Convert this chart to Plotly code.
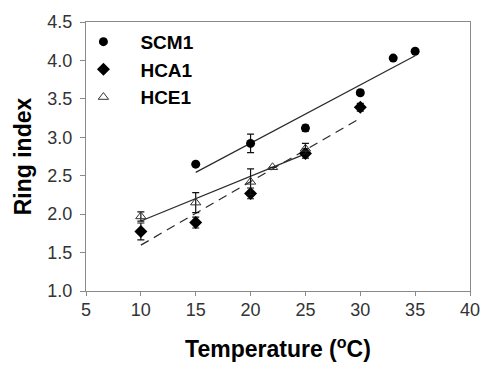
import numpy as np
import plotly.graph_objects as go

# Data
scm1_x = [15, 20, 25, 30, 33, 35]
scm1_y = [2.65, 2.92, 3.12, 3.58, 4.03, 4.12]
scm1_err = [0.0, 0.12, 0.04, 0.03, 0.0, 0.0]

hca1_x = [10, 15, 20, 25, 30]
hca1_y = [1.775, 1.89, 2.27, 2.79, 3.39]
hca1_err = [0.11, 0.07, 0.07, 0.06, 0.05]

hce1_x = [10, 15, 20, 22, 25]
hce1_y = [1.97, 2.15, 2.42, 2.61, 2.85]
hce1_err = [0.06, 0.13, 0.17, 0.0, 0.07]

x_ticks = [5, 10, 15, 20, 25, 30, 35, 40]
y_ticks = [1.0, 1.5, 2.0, 2.5, 3.0, 3.5, 4.0, 4.5]

def fit_line(xs, ys):
    k, b = np.polyfit(xs, ys, 1)
    xe = np.array([min(xs), max(xs)])
    return xe, k * xe + b

fig = go.Figure()

line_col = "#2a2a2a"
# regression lines
for xs, ys, dash in [(scm1_x, scm1_y, "solid"), (hca1_x, hca1_y, "dash"), (hce1_x, hce1_y, "solid")]:
    xe, ye = fit_line(xs, ys)
    fig.add_trace(go.Scatter(x=xe, y=ye, mode="lines", showlegend=False,
                             line=dict(color=line_col, width=1.2, dash="9px,6px" if dash == "dash" else "solid"),
                             hoverinfo="skip"))

err_style = dict(type="data", thickness=1.2, width=3.5, color="#111111")

fig.add_trace(go.Scatter(x=scm1_x, y=scm1_y, mode="markers", name="SCM1",
                         marker=dict(symbol="circle", size=9, color="black"),
                         error_y=dict(array=scm1_err, **err_style)))
fig.add_trace(go.Scatter(x=hca1_x, y=hca1_y, mode="markers", name="HCA1",
                         marker=dict(symbol="diamond", size=10, color="black"),
                         error_y=dict(array=hca1_err, **err_style)))
fig.add_trace(go.Scatter(x=hce1_x, y=hce1_y, mode="markers", name="HCE1",
                         marker=dict(symbol="triangle-up-open", size=9, color="#333333",
                                     line=dict(width=1)),
                         error_y=dict(array=hce1_err, **err_style)))

axis_col = "#8a8a8a"
fam = "Liberation Sans, Arial, sans-serif"
tick_font = dict(family=fam, size=18, color="#333333")
title_font = dict(family=fam, size=23, color="black")

fig.update_xaxes(range=[5, 40], tickvals=x_ticks, ticktext=[str(v) for v in x_ticks],
                 showgrid=False, zeroline=False, showline=True, linecolor=axis_col, linewidth=1,
                 mirror=True, ticks="outside", ticklen=4, tickcolor=axis_col,
                 tickfont=tick_font, ticklabelstandoff=-2, ticklabeloverflow="allow",
                 title=dict(text="<b>Temperature (<sup>o</sup>C)</b>", font=title_font, standoff=22))
fig.update_yaxes(range=[1.0, 4.5], tickvals=y_ticks, ticktext=[f"{v:.1f}" for v in y_ticks],
                 showgrid=False, zeroline=False, showline=True, linecolor=axis_col, linewidth=1,
                 mirror=True, ticks="outside", ticklen=5, tickcolor=axis_col,
                 tickfont=tick_font, ticklabelstandoff=4, ticklabeloverflow="allow",
                 title=dict(text="<b>Ring index</b>", font=title_font, standoff=9))

fig.update_layout(
    width=492, height=370,
    margin=dict(l=86, r=13, t=21, b=73),
    paper_bgcolor="white", plot_bgcolor="white",
    legend=dict(x=-0.051, y=0.997, xanchor="left", yanchor="top",
                bgcolor="rgba(0,0,0,0)", itemwidth=64,
                font=dict(family=fam, size=19, color="black"),
                tracegroupgap=0),
    showlegend=True,
)
# bold legend names
for tr in fig.data:
    if tr.name:
        tr.name = f"<b>{tr.name}</b>"

fig.write_html("out.html",
               config={"displayModeBar": False},
               post_script="document.body.style.margin='0';document.body.style.overflow='hidden';")
